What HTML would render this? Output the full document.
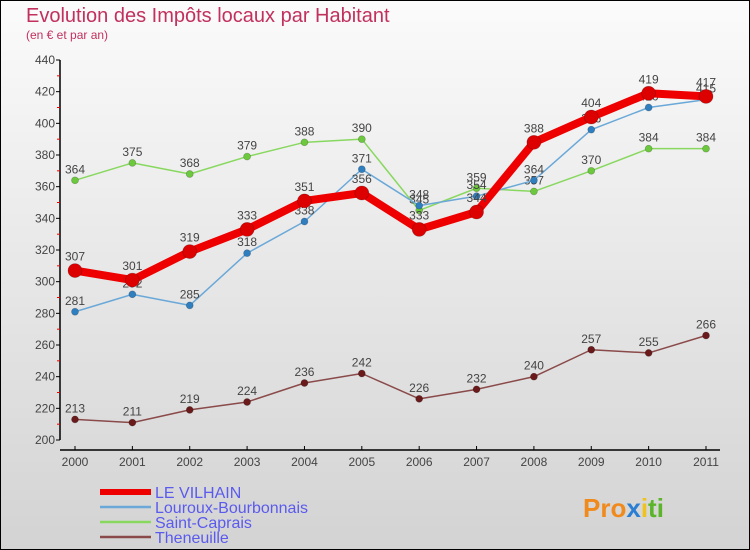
<!DOCTYPE html>
<html><head><meta charset="utf-8"><style>
html,body{margin:0;padding:0}
body{width:750px;height:550px;overflow:hidden;font-family:"Liberation Sans","DejaVu Sans",sans-serif}
svg{display:block}
</style></head><body>
<svg id="chart" width="750" height="550" xmlns="http://www.w3.org/2000/svg">
<defs><linearGradient id="bg" x1="0" y1="0" x2="0" y2="1"><stop offset="0" stop-color="#fbfbfb"/><stop offset="1" stop-color="#d3d3d3"/></linearGradient></defs>
<rect x="0.5" y="0.5" width="749" height="549" fill="url(#bg)" stroke="#000"/>
<text x="26" y="22" font-size="20" fill="#c2305e">Evolution des Impôts locaux par Habitant</text>
<text x="26" y="39" font-size="12" fill="#c2305e">(en € et par an)</text>
<g id="axes"></g>
<g id="series"></g>
<g id="legend"></g>
<text x="583" y="517" font-size="26" font-weight="bold"><tspan fill="#f08a1c">Pro</tspan><tspan fill="#2a7fd4">x</tspan><tspan fill="#f0c21c">i</tspan><tspan fill="#5ab52a">ti</tspan></text>
</svg>
<script>
const years=[2000,2001,2002,2003,2004,2005,2006,2007,2008,2009,2010,2011];
const yTicks=[200,220,240,260,280,300,320,340,360,380,400,420,440];
const seriesNames=["LE VILHAIN","Louroux-Bourbonnais","Saint-Caprais","Theneuille"];
const vilhain=[307,301,319,333,351,356,333,344,388,404,419,417];
const louroux=[281,292,285,318,338,371,348,354,364,396,410,415];
const caprais=[364,375,368,379,388,390,345,359,357,370,384,384];
const theneuille=[213,211,219,224,236,242,226,232,240,257,255,266];
const NS="http://www.w3.org/2000/svg";
const xS=i=>75+i*(706-75)/(years.length-1);
const yS=v=>440-(v-200)*380/240;
function mk(t,a,p){const e=document.createElementNS(NS,t);for(const k in a)e.setAttribute(k,a[k]);p.appendChild(e);return e;}
const ax=document.getElementById('axes');
let yl=mk('line',{x1:60,y1:yS(440),x2:60,y2:yS(200),stroke:'#000','stroke-width':1.5},ax);


let xl=mk('line',{x1:60,y1:450,x2:720,y2:450,stroke:'#000','stroke-width':1.5},ax);


yTicks.forEach((v,i)=>{
  mk('line',{x1:56,y1:yS(v),x2:60,y2:yS(v),stroke:'#000'},ax);
  if(i<yTicks.length-1) mk('line',{x1:57,y1:yS(v+10),x2:60,y2:yS(v+10),stroke:'#e00'},ax);
  const t=mk('text',{x:55,y:yS(v)+4,'text-anchor':'end','font-size':12,fill:'#444'},ax);
  t.textContent=v;
  
  
});
years.forEach((y,i)=>{
  mk('line',{x1:xS(i),y1:446,x2:xS(i),y2:450,stroke:'#000'},ax);
  const t=mk('text',{x:xS(i),y:466,'text-anchor':'middle','font-size':12,fill:'#444'},ax);
  t.textContent=y;
  
  
});
const sg=document.getElementById('series');
const cfg=[[vilhain,'#ee0000',8,7,'#dd0000'],[louroux,'#6aa8d8',1.5,3.5,'#2f7fc0'],[caprais,'#88d860',1.5,3.5,'#6cc83c'],[theneuille,'#8a4a4a',1.5,3.5,'#6a1a1a']];
const order=[3,2,1,0];
order.forEach(si=>{
  const [d,c,w,r,mc]=cfg[si];
  const g=mk('g',{},sg);
  
  
  const pl=mk('polyline',{points:d.map((v,i)=>xS(i)+','+yS(v)).join(' '),fill:'none',stroke:c,'stroke-width':w,'stroke-linejoin':'round'},g);
  
  
  d.forEach((v,i)=>{
    const p=mk('circle',{cx:xS(i),cy:yS(v),r:r,fill:mc,stroke:'rgba(0,0,0,0.25)','stroke-width':0.7},g);
    
    
    const t=mk('text',{x:xS(i),y:yS(v)-(si==0?10:7),'text-anchor':'middle','font-size':12,fill:'#444'},g);
    t.textContent=v;
    
    
  });
});
const lg=document.getElementById('legend');
const ly=[492,507,522,537];
cfg.forEach((c,i)=>{
  const l=mk('line',{x1:100,y1:ly[i],x2:151,y2:ly[i],stroke:i==0?'#ee0000':c[1],'stroke-width':i==0?6:2.5},lg);
  
  
  const t=mk('text',{x:155,y:ly[i]+6,'font-size':16,fill:'#5a5aee'},lg);
  t.textContent=seriesNames[i];
  
  
});
</script>
</body></html>
